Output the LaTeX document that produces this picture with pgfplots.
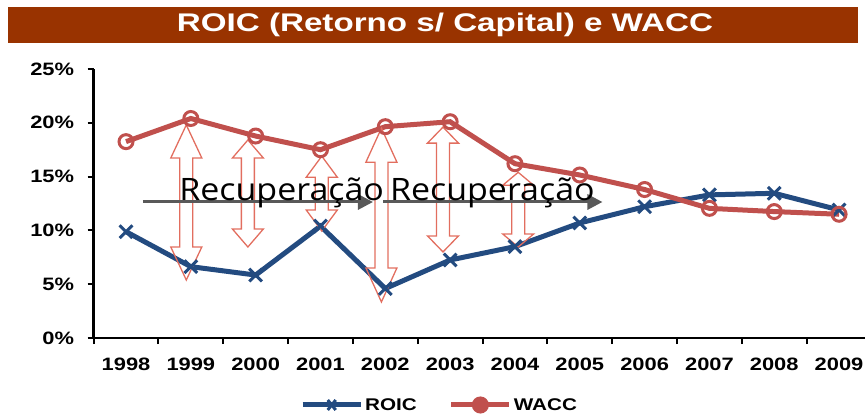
\documentclass[border=0pt]{standalone}
\usepackage{fontspec}
\setmainfont{Liberation Sans}
\newfontfamily\osans{Open Sans}
\usepackage{graphicx}
\usepackage{pgfplots}
\pgfplotsset{compat=1.18}
\usetikzlibrary{arrows.meta}
\definecolor{roic}{RGB}{35,75,128}
\definecolor{wacc}{RGB}{192,80,77}
\definecolor{arr}{RGB}{226,110,95}
\definecolor{titlebg}{RGB}{153,51,0}
\definecolor{garr}{RGB}{89,89,89}
\newcommand\sx[1]{\scalebox{1.22}[1]{#1}}
% double block arrow: x, ytop, ybot, head length
\newcommand\dbl[4]{%
\draw[arr, line width=1.3bp, line join=miter]
 (axis cs:#1,#2) -- ([xshift=15.5bp,yshift=-#4]axis cs:#1,#2) -- ([xshift=6.5bp,yshift=-#4]axis cs:#1,#2)
 -- ([xshift=6.5bp,yshift=#4]axis cs:#1,#3) -- ([xshift=15.5bp,yshift=#4]axis cs:#1,#3) -- (axis cs:#1,#3)
 -- ([xshift=-15.5bp,yshift=#4]axis cs:#1,#3) -- ([xshift=-6.5bp,yshift=#4]axis cs:#1,#3)
 -- ([xshift=-6.5bp,yshift=-#4]axis cs:#1,#2) -- ([xshift=-15.5bp,yshift=-#4]axis cs:#1,#2) -- cycle;}
\begin{document}
\begin{tikzpicture}
\path[use as bounding box] (0,0) rectangle (865bp,-414bp);
\fill[titlebg] (8bp,-7bp) rectangle (858bp,-43bp);
\node[anchor=base, inner sep=0, text=white, font=\fontsize{25.6}{26}\selectfont\bfseries] at (445bp,-31.5bp) {\scalebox{1.3}[1]{ROIC (Retorno s/ Capital) e WACC}};
\begin{axis}[
  at={(93.6bp,-338bp)}, anchor=south west,
  scale only axis, width=771.4bp, height=269bp,
  xmin=-0.5, xmax=11.4, ymin=0, ymax=25,
  clip=false,
  axis lines*=left,
  axis line style={line width=2.5bp, black},
  tick align=outside,
  ytick={0,5,10,15,20,25},
  yticklabels={\sx{0\%},\sx{5\%},\sx{10\%},\sx{15\%},\sx{20\%},\sx{25\%}},
  xtick={0,...,11},
  xticklabels={\sx{1998},\sx{1999},\sx{2000},\sx{2001},\sx{2002},\sx{2003},\sx{2004},\sx{2005},\sx{2006},\sx{2007},\sx{2008},\sx{2009}},
  major x tick style={draw=none},
  minor xtick={-0.5,0.5,...,10.5},
  minor tick length=6bp, major tick length=6bp,
  tick style={line width=2bp, black},
  ticklabel style={font=\fontsize{18}{18}\selectfont\bfseries},
  xticklabel style={yshift=-10bp},
  yticklabel style={xshift=-10bp},
  legend columns=2,
  legend style={at={(0.2676,-0.249)}, anchor=west, draw=none, fill=none, inner sep=0pt,
     font=\fontsize{17}{17}\selectfont\bfseries,
     /tikz/every even column/.append style={column sep=30bp}},
]
\addplot[roic, line width=5bp, mark=x, mark size=9bp, mark options={line width=3bp},
  legend image code/.code={\draw[roic, line width=5bp] (0bp,0bp) -- (58bp,0bp);
     \draw[roic, line width=3bp] (25bp,-5bp) -- (33bp,5bp) (25bp,5bp) -- (33bp,-5bp);}]
 coordinates {(0,9.88)(1,6.63)(2,5.85)(3,10.4)(4,4.6)(5,7.25)(6,8.49)(7,10.69)(8,12.2)(9,13.3)(10,13.45)(11,11.9)};
\addlegendentry{\sx{ROIC}}
\addplot[wacc, line width=5bp, mark=o, mark size=7bp, mark options={line width=3bp, fill=white},
  legend image code/.code={\draw[wacc, line width=5bp] (0bp,0bp) -- (58bp,0bp);
     \fill[wacc] (29bp,0bp) circle (6bp);}]
 coordinates {(0,18.25)(1,20.4)(2,18.77)(3,17.5)(4,19.64)(5,20.1)(6,16.2)(7,15.15)(8,13.8)(9,12.05)(10,11.75)(11,11.5)};
\addlegendentry{\sx{WACC}}
\dbl{0.93}{19.8}{5.39}{33bp}
\dbl{1.88}{18.4}{8.46}{18bp}
\dbl{3.02}{16.9}{9.94}{21bp}
\dbl{3.94}{19.5}{3.35}{34bp}
\dbl{4.89}{19.6}{8.0}{16bp}
\dbl{6.05}{15.4}{8.46}{13bp}
\draw[garr, line width=3bp, -{Triangle[length=15bp,width=15bp]}] (axis cs:0.26,12.64) -- (axis cs:3.81,12.64);
\draw[garr, line width=3bp, -{Triangle[length=15bp,width=15bp]}] (axis cs:3.97,12.64) -- (axis cs:7.35,12.64);
\node[anchor=base west, inner sep=0, font=\osans\fontsize{31}{31}\selectfont] at (axis cs:0.82,12.74) {\scalebox{1.1}[1]{Recuperação}};
\node[anchor=base west, inner sep=0, font=\osans\fontsize{31}{31}\selectfont] at (axis cs:4.07,12.74) {\scalebox{1.1}[1]{Recuperação}};
\end{axis}
\end{tikzpicture}
\end{document}
